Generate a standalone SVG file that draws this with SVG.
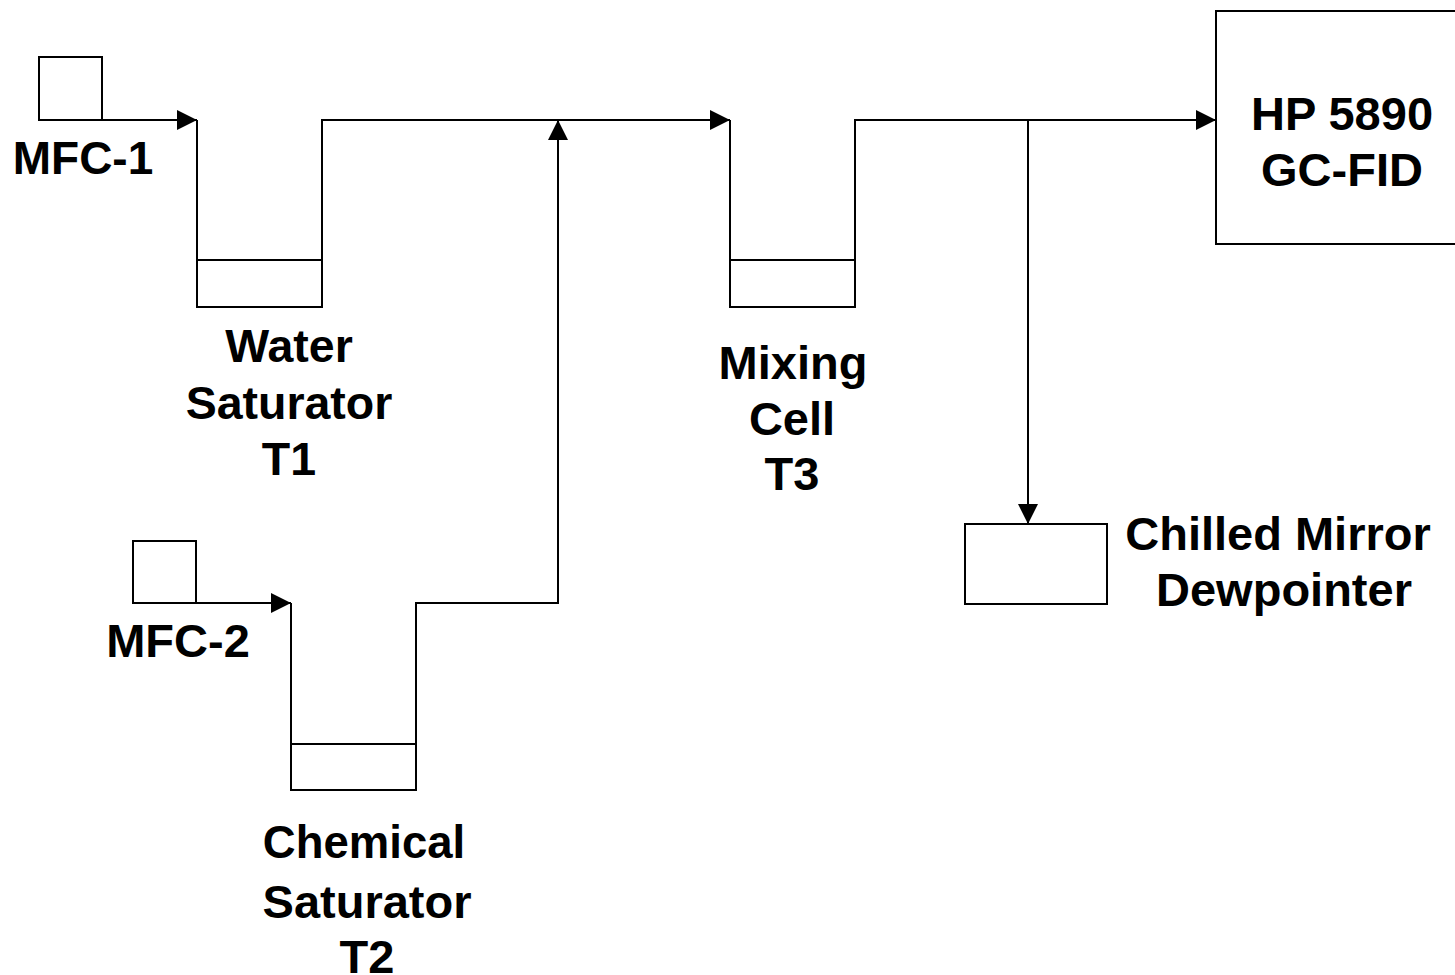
<svg xmlns="http://www.w3.org/2000/svg" width="1455" height="975" viewBox="0 0 1455 975">
<style>
.s{fill:none;stroke:#000;stroke-width:2}
.t{font-family:"Liberation Sans",Arial,sans-serif;font-weight:700;font-size:47px;fill:#000;text-anchor:middle}
</style>
<defs>
<marker id="a" markerUnits="userSpaceOnUse" markerWidth="22" markerHeight="20" refX="20" refY="10" orient="auto"><path d="M0 0L20 10L0 20Z" fill="#000"/></marker>
</defs>
<rect width="1455" height="975" fill="#fff"/>
<g id="connectors">
<path class="s" d="M102 120H197" marker-end="url(#a)"/>
<path class="s" d="M197 120V307H322V120H730" marker-end="url(#a)"/>
<path class="s" d="M196 603H291" marker-end="url(#a)"/>
<path class="s" d="M291 603V790H416V603H558V120" marker-end="url(#a)"/>
<path class="s" d="M730 120V307H855V120H1216" marker-end="url(#a)"/>
<path class="s" d="M1028 120V524" marker-end="url(#a)"/>
</g>
<g id="mfc1"><rect class="s" x="39" y="57" width="63" height="63"/><text class="t" x="83" y="174" font-size="46" style="font-size:46px">MFC-1</text></g>
<g id="t1"><path class="s" d="M197 260H322"/><text class="t" x="289" y="362" style="font-size:46.5px">Water</text><text class="t" x="289" y="419" style="font-size:46.5px">Saturator</text><text class="t" x="289" y="475" style="font-size:46.5px">T1</text></g>
<g id="mfc2"><rect class="s" x="133" y="541" width="63" height="62"/><text class="t" x="178" y="657">MFC-2</text></g>
<g id="t2"><path class="s" d="M291 744H416"/><text class="t" x="364" y="858" style="font-size:45.5px">Chemical</text><text class="t" x="367" y="918">Saturator</text><text class="t" x="367" y="973">T2</text></g>
<g id="t3"><path class="s" d="M730 260H855"/><text class="t" x="793" y="379">Mixing</text><text class="t" x="792" y="435">Cell</text><text class="t" x="792" y="490">T3</text></g>
<g id="gc"><path class="s" d="M1455 11H1216V244H1455"/><text class="t" x="1342" y="130">HP 5890</text><text class="t" x="1342" y="186">GC-FID</text></g>
<g id="dew"><rect class="s" x="965" y="524" width="142" height="80"/><text class="t" x="1278" y="550">Chilled Mirror</text><text class="t" x="1284" y="606">Dewpointer</text></g>
</svg>
